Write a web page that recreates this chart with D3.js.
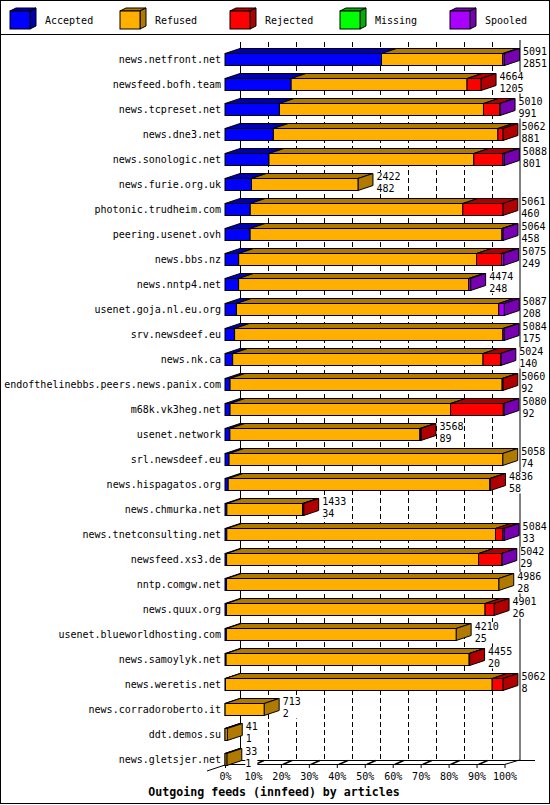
<!DOCTYPE html>
<html>
<head>
<meta charset="utf-8">
<script src="https://cdn.jsdelivr.net/npm/d3@7/dist/d3.min.js"></script>
<style>
  html, body { margin: 0; padding: 0; background: #fff; }
  svg { display: block; }
  text { font-family: "DejaVu Sans Mono", "Liberation Mono", monospace; fill: #000; }
</style>
</head>
<body>
<svg id="chart" width="550" height="805"></svg>
<script>
// ---- data ----
const hosts = [
  "news.netfront.net", "newsfeed.bofh.team", "news.tcpreset.net", "news.dne3.net",
  "news.sonologic.net", "news.furie.org.uk", "photonic.trudheim.com", "peering.usenet.ovh",
  "news.bbs.nz", "news.nntp4.net", "usenet.goja.nl.eu.org", "srv.newsdeef.eu",
  "news.nk.ca", "endofthelinebbs.peers.news.panix.com", "m68k.vk3heg.net", "usenet.network",
  "srl.newsdeef.eu", "news.hispagatos.org", "news.chmurka.net", "news.tnetconsulting.net",
  "newsfeed.xs3.de", "nntp.comgw.net", "news.quux.org", "usenet.blueworldhosting.com",
  "news.samoylyk.net", "news.weretis.net", "news.corradoroberto.it", "ddt.demos.su",
  "news.gletsjer.net"
];
const offered  = [5091, 4664, 5010, 5062, 5088, 2422, 5061, 5064, 5075, 4474, 5087, 5084, 5024, 5060, 5080, 3568, 5058, 4836, 1433, 5084, 5042, 4986, 4901, 4210, 4455, 5062, 713, 41, 33];
const accepted = [2851, 1205, 991, 881, 801, 482, 460, 458, 249, 248, 208, 175, 140, 92, 92, 89, 74, 58, 34, 33, 29, 28, 26, 25, 20, 8, 2, 1, 1];
const refused  = [2210, 3204, 3717, 4090, 3731, 1940, 3871, 4586, 4333, 4191, 4779, 4887, 4560, 4956, 4016, 3461, 4984, 4766, 1379, 4894, 4590, 4958, 4711, 4185, 4427, 4859, 711, 40, 32];
const rejected = [0, 255, 292, 91, 529, 0, 730, 0, 456, 0, 0, 0, 318, 12, 962, 18, 0, 12, 20, 133, 420, 0, 164, 0, 8, 195, 0, 0, 0];
const missing  = [0, 0, 0, 0, 0, 0, 0, 0, 0, 0, 0, 0, 0, 0, 0, 0, 0, 0, 0, 0, 0, 0, 0, 0, 0, 0, 0, 0, 0];
const spooled  = [30, 0, 10, 0, 27, 0, 0, 20, 37, 35, 100, 22, 6, 0, 10, 0, 0, 0, 0, 24, 3, 0, 0, 0, 0, 0, 0, 0, 0];
const seriesNames = ["Accepted", "Refused", "Rejected", "Missing", "Spooled"];
const tickValues = [0, 10, 20, 30, 40, 50, 60, 70, 80, 90, 100];
const title = "Outgoing feeds (innfeed) by articles";

// ---- styling ----
const frontColor = ["#0000FF", "#FFAF00", "#FF0000", "#00FF00", "#AA00FF"];
const darkColor  = ["#0000B0", "#B07A00", "#B00000", "#00B000", "#7700B0"];

const table = hosts.map((h, i) => ({
  host: h, offered: offered[i],
  Accepted: accepted[i], Refused: refused[i], Rejected: rejected[i],
  Missing: missing[i], Spooled: spooled[i]
}));

const svg = d3.select("#chart");
const DX = 15, DY = 5, BAR_H = 12;
const X0 = 225, X1 = 504.5;

const x = d3.scaleLinear().domain([0, d3.max(offered)]).range([X0, X1]);
const pct = d3.scaleLinear().domain([0, 100]).range([X0, X1]);
const y = d3.scalePoint().domain(hosts).range([53.5, 53.5 + 25 * (hosts.length - 1)]);

const FLOOR_FRONT = 764.5, FLOOR_BACK = 760, TOP = 40;

// outer border
svg.append("rect").attr("x", 0.5).attr("y", 0.5).attr("width", 549).attr("height", 803)
  .attr("fill", "none").attr("stroke", "#000").attr("shape-rendering", "crispEdges");
// legend separator
svg.append("line").attr("x1", 0).attr("x2", 550).attr("y1", 34.5).attr("y2", 34.5)
  .attr("stroke", "#000").attr("shape-rendering", "crispEdges");

// legend
const leg = svg.append("g").selectAll("g").data(seriesNames).join("g")
  .attr("transform", (d, i) => `translate(${10 + 110 * i},0)`);
leg.append("polygon")
  .attr("points", "0,11 20,11 26,8 6,8")
  .attr("fill", (d, i) => darkColor[i]).attr("stroke", "#000");
leg.append("polygon")
  .attr("points", "20,11 26,8 26,26 20,29")
  .attr("fill", (d, i) => darkColor[i]).attr("stroke", "#000");
leg.append("rect").attr("x", 0).attr("y", 11).attr("width", 20).attr("height", 18)
  .attr("fill", (d, i) => frontColor[i]).attr("stroke", "#000");
leg.append("text").attr("x", 35).attr("y", 24).attr("font-size", 10).text(d => d);

// grid (back wall)
const grid = svg.append("g");
grid.selectAll("line.g").data(tickValues.slice(1, -1)).join("line")
  .attr("x1", d => Math.round(pct(d) + DX) + 0.5).attr("x2", d => Math.round(pct(d) + DX) + 0.5)
  .attr("y1", TOP + 2).attr("y2", FLOOR_BACK)
  .attr("stroke", "#000").attr("stroke-dasharray", "5,3");
grid.append("line").attr("x1", X0 + DX + 0.5).attr("x2", X0 + DX + 0.5)
  .attr("y1", TOP + 2).attr("y2", FLOOR_BACK).attr("stroke", "#000");
grid.append("line").attr("x1", X1 + DX + 0.5).attr("x2", X1 + DX + 0.5)
  .attr("y1", TOP).attr("y2", FLOOR_BACK).attr("stroke", "#000");

// floor
const floor = svg.append("g").attr("stroke", "#000").attr("fill", "none");
floor.append("line").attr("x1", X0 + DX).attr("x2", 535).attr("y1", FLOOR_BACK + 0.5).attr("y2", FLOOR_BACK + 0.5);
floor.append("line").attr("x1", X0).attr("x2", X1).attr("y1", FLOOR_FRONT).attr("y2", FLOOR_FRONT);
floor.append("line").attr("x1", 207).attr("y1", 771).attr("x2", X0 + DX).attr("y2", FLOOR_BACK);
floor.append("line").attr("x1", X1).attr("y1", FLOOR_FRONT).attr("x2", X1 + DX).attr("y2", FLOOR_BACK);
floor.selectAll("line.d").data(tickValues.slice(0, -1)).join("line")
  .attr("x1", d => pct(d) + 2).attr("y1", FLOOR_FRONT)
  .attr("x2", d => pct(d) + 11).attr("y2", FLOOR_BACK + 0.5)
  .attr("stroke-width", 1.6);

// axis
const axis = d3.axisBottom(pct).tickValues(tickValues).tickFormat(d => d + "%")
  .tickSize(4).tickPadding(5);
const ag = svg.append("g").attr("transform", `translate(0,${FLOOR_FRONT - 0.5})`).call(axis);
ag.select(".domain").remove();
ag.selectAll("text").attr("font-family", "DejaVu Sans Mono, monospace").attr("font-size", 10);

// bars
const keys = seriesNames;
const rows = svg.append("g").selectAll("g.row").data(table).join("g").attr("class", "row");
rows.each(function (d) {
  const g = d3.select(this);
  const top = y(d.host), bot = top + BAR_H;
  let cum = 0;
  const segs = [];
  keys.forEach((k, ki) => {
    const v = d[k];
    if (v > 0) { segs.push({ k: ki, a: x(cum), b: x(cum + v) }); cum += v; }
  });
  segs.forEach(s => {
    g.append("polygon")
      .attr("points", `${s.a},${top} ${s.b},${top} ${s.b + DX},${top - DY} ${s.a + DX},${top - DY}`)
      .attr("fill", darkColor[s.k]).attr("stroke", "#000").attr("stroke-linejoin", "round");
  });
  const last = segs[segs.length - 1];
  g.append("polygon")
    .attr("points", `${last.b},${top} ${last.b + DX},${top - DY} ${last.b + DX},${bot - DY} ${last.b},${bot}`)
    .attr("fill", darkColor[last.k]).attr("stroke", "#000");
  segs.forEach(s => {
    g.append("rect").attr("x", s.a).attr("y", top).attr("width", s.b - s.a).attr("height", BAR_H)
      .attr("fill", frontColor[s.k]).attr("stroke", "#000");
  });
  const tx = x(d.offered) + DX + 3.5;
  const w = Math.max(String(d.offered).length, String(d.Accepted).length) * 6.02;
  g.append("rect").attr("x", tx).attr("y", top - 6.5)
    .attr("width", w).attr("height", 21.5).attr("fill", "#fff");
  g.append("text").attr("x", tx).attr("y", top + 1.8).attr("font-size", 10).text(d.offered);
  g.append("text").attr("x", tx).attr("y", top + 13).attr("font-size", 10).text(d.Accepted);
  g.append("text").attr("x", 221).attr("y", top + 9.5).attr("font-size", 10)
    .attr("text-anchor", "end").text(d.host);
});

// title
svg.append("text").attr("x", 274).attr("y", 796).attr("text-anchor", "middle")
  .attr("font-size", 11.6).attr("font-weight", "bold").text(title);
</script>
</body>
</html>
